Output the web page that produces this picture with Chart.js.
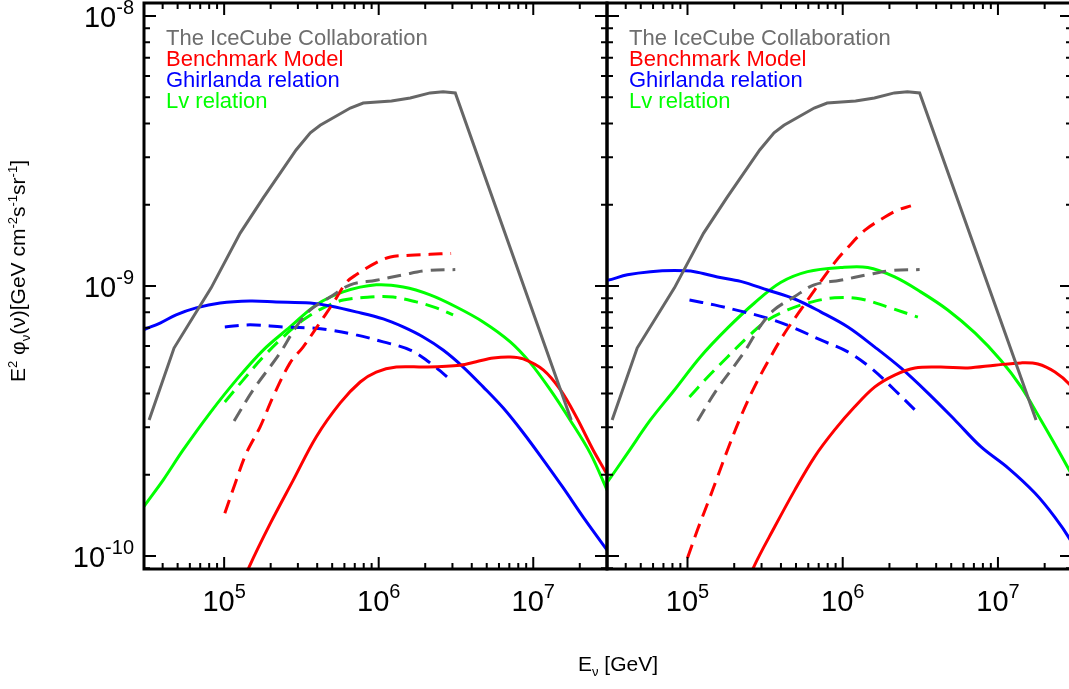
<!DOCTYPE html>
<html>
<head>
<meta charset="utf-8">
<script src="https://cdn.jsdelivr.net/npm/chart.js@4.4.1/dist/chart.umd.min.js"></script>
<style>
  body { margin: 0; width: 1069px; height: 689px; overflow: hidden; background: #fff; position: relative;
         font-family: "Liberation Sans", Arial, sans-serif; }
  canvas { position: absolute; top: 0; }
  #left { left: 0; }
  #right { left: 602px; }
  .title { position: absolute; font-size: 21px; color: #000; white-space: nowrap; line-height: normal; }
  .title sup, .title sub { font-size: 0.62em; line-height: 0; }
  #xtitle { left: 578px; top: 652px; }
  #ytitle { left: 18px; top: 271px; transform: translate(-50%, -50%) rotate(-90deg); }
</style>
</head>
<body>
<canvas id="left" width="612" height="689"></canvas>
<canvas id="right" width="470" height="689"></canvas>
<div class="title" id="xtitle">E<sub>ν</sub> [GeV]</div>
<div class="title" id="ytitle">E<sup>2</sup> φ<sub>ν</sub>(ν)[GeV cm<sup>-2</sup>s<sup>-1</sup>sr<sup>-1</sup>]</div>
<script>
// IceCube data (same in both panels)
const iceEnergy = [3.27e4, 4.74e4, 8.24e4, 1.27e5, 1.79e5, 2.92e5, 3.61e5, 4.18e5, 6.55e5, 7.94e5, 1.21e6, 1.60e6, 2.15e6, 2.61e6, 3.13e6, 1.76e7];
const iceFlux   = [3.19e-10, 5.89e-10, 9.84e-10, 1.57e-9, 2.12e-9, 3.19e-9, 3.69e-9, 3.94e-9, 4.56e-9, 4.76e-9, 4.84e-9, 4.97e-9, 5.19e-9, 5.24e-9, 5.19e-9, 3.19e-10];
const iceFitEnergy = [1.16e5, 1.54e5, 2.30e5, 2.92e5, 3.61e5, 4.85e5, 6.55e5, 9.64e5, 1.44e6, 2.03e6, 3.13e6];
const iceFitFlux   = [3.16e-10, 4.12e-10, 5.65e-10, 7.05e-10, 8.15e-10, 9.10e-10, 1.01e-9, 1.05e-9, 1.10e-9, 1.14e-9, 1.15e-9];

// left panel
const benchEnergyL = [1.18e5, 1.45e5, 1.99e5, 2.80e5, 3.94e5, 5.64e5, 7.59e5, 9.64e5, 1.30e6, 2.03e6, 3.37e6, 4.28e6, 5.51e6, 7.10e6, 8.61e6, 1.16e7, 1.50e7, 1.90e7, 2.44e7, 3.01e7, 3.66e7];
const benchFluxL   = [6.87e-11, 9.10e-11, 1.32e-10, 1.91e-10, 2.76e-10, 3.69e-10, 4.41e-10, 4.80e-10, 5.01e-10, 5.01e-10, 5.09e-10, 5.24e-10, 5.41e-10, 5.46e-10, 5.37e-10, 4.89e-10, 4.12e-10, 3.27e-10, 2.47e-10, 2.00e-10, 1.62e-10];
const benchDashEnergyL = [1.01e5, 1.18e5, 1.39e5, 1.71e5, 2.07e5, 2.67e5, 3.24e5, 3.94e5, 5.08e5, 6.17e5, 7.14e5, 9.64e5, 1.19e6, 1.60e6, 2.15e6, 2.94e6];
const benchDashFluxL   = [1.44e-10, 1.86e-10, 2.40e-10, 3.01e-10, 3.88e-10, 5.19e-10, 5.94e-10, 6.98e-10, 8.65e-10, 1.03e-9, 1.10e-9, 1.22e-9, 1.28e-9, 1.30e-9, 1.31e-9, 1.32e-9];
const ghirEnergyL = [2.47e4, 2.99e4, 3.85e4, 4.89e4, 6.59e4, 9.42e4, 1.47e5, 2.17e5, 3.61e5, 4.85e5, 7.14e5, 1.07e6, 1.44e6, 1.94e6, 2.61e6, 3.52e6, 4.74e6, 6.40e6, 8.61e6, 1.16e7, 1.56e7, 2.11e7, 3.01e7, 3.66e7];
const ghirFluxL   = [6.53e-10, 6.87e-10, 7.29e-10, 7.82e-10, 8.30e-10, 8.65e-10, 8.79e-10, 8.73e-10, 8.65e-10, 8.43e-10, 8.02e-10, 7.55e-10, 7.05e-10, 6.47e-10, 5.79e-10, 5.01e-10, 4.23e-10, 3.53e-10, 2.86e-10, 2.27e-10, 1.79e-10, 1.39e-10, 1.05e-10, 9.04e-11];
const ghirDashEnergyL = [1.01e5, 1.47e5, 2.41e5, 3.88e5, 4.85e5, 7.14e5, 1.07e6, 1.60e6, 2.15e6, 3.03e6];
const ghirDashFluxL   = [7.05e-10, 7.18e-10, 7.05e-10, 6.98e-10, 6.87e-10, 6.59e-10, 6.21e-10, 5.79e-10, 5.19e-10, 4.41e-10];
const lvEnergyL = [2.47e4, 2.99e4, 4.03e4, 5.43e4, 8.11e4, 1.20e5, 1.79e5, 2.67e5, 3.94e5, 5.89e5, 9.64e5, 1.44e6, 2.15e6, 3.18e6, 4.74e6, 7.10e6, 9.57e6, 1.29e7, 1.73e7, 2.34e7, 3.01e7, 3.66e7];
const lvFluxL   = [1.28e-10, 1.51e-10, 1.91e-10, 2.47e-10, 3.39e-10, 4.49e-10, 5.79e-10, 7.05e-10, 8.51e-10, 9.51e-10, 1.01e-9, 9.91e-10, 9.27e-10, 8.36e-10, 7.36e-10, 6.21e-10, 5.19e-10, 4.12e-10, 3.19e-10, 2.40e-10, 1.75e-10, 1.36e-10];
const lvDashEnergyL = [1.01e5, 1.33e5, 1.79e5, 2.41e5, 3.24e5, 4.38e5, 5.89e5, 8.81e5, 1.24e6, 1.75e6, 2.36e6, 3.03e6];
const lvDashFluxL   = [3.72e-10, 4.49e-10, 5.46e-10, 6.47e-10, 7.48e-10, 8.30e-10, 8.87e-10, 9.10e-10, 9.10e-10, 8.73e-10, 8.30e-10, 7.82e-10];

// right panel
const benchEnergyR = [2.20e5, 2.67e5, 3.64e5, 4.90e5, 6.59e5, 8.87e5, 1.19e6, 1.61e6, 2.16e6, 2.92e6, 4.29e6, 6.40e6, 9.57e6, 1.41e7, 1.81e7, 2.33e7, 2.92e7, 3.43e7];
const benchFluxR   = [6.87e-11, 9.10e-11, 1.28e-10, 1.75e-10, 2.33e-10, 2.93e-10, 3.56e-10, 4.23e-10, 4.68e-10, 4.97e-10, 5.01e-10, 4.97e-10, 5.09e-10, 5.19e-10, 5.14e-10, 4.80e-10, 4.30e-10, 3.78e-10];
const benchDashEnergyR = [1.00e5, 1.16e5, 1.35e5, 1.56e5, 1.81e5, 2.20e5, 2.70e5, 3.43e5, 4.23e5, 5.36e5, 6.59e5, 8.87e5, 1.08e6, 1.39e6, 1.87e6, 2.26e6, 2.75e6];
const benchDashFluxR   = [9.84e-11, 1.25e-10, 1.57e-10, 1.96e-10, 2.47e-10, 3.27e-10, 4.23e-10, 5.46e-10, 6.70e-10, 8.15e-10, 9.66e-10, 1.22e-9, 1.39e-9, 1.61e-9, 1.80e-9, 1.91e-9, 1.98e-9];
const ghirEnergyR = [2.37e4, 3.05e4, 4.10e4, 5.77e4, 8.24e4, 1.11e5, 1.56e5, 2.20e5, 3.28e5, 4.90e5, 7.21e5, 1.08e6, 1.61e6, 2.37e6, 3.53e6, 5.28e6, 7.76e6, 1.16e7, 1.73e7, 2.33e7, 2.92e7, 3.43e7];
const ghirFluxR   = [1.03e-9, 1.05e-9, 1.10e-9, 1.13e-9, 1.14e-9, 1.13e-9, 1.08e-9, 1.04e-9, 9.66e-10, 8.95e-10, 8.02e-10, 7.05e-10, 5.94e-10, 4.97e-10, 4.02e-10, 3.19e-10, 2.54e-10, 2.12e-10, 1.71e-10, 1.39e-10, 1.15e-10, 9.66e-11];
const ghirDashEnergyR = [1.03e5, 1.49e5, 2.20e5, 3.28e5, 4.90e5, 7.21e5, 1.08e6, 1.52e6, 2.16e6, 3.05e6];
const ghirDashFluxR   = [8.87e-10, 8.51e-10, 8.07e-10, 7.60e-10, 6.98e-10, 6.31e-10, 5.70e-10, 4.97e-10, 4.12e-10, 3.39e-10];
const lvEnergyR = [2.37e4, 3.05e4, 4.10e4, 5.77e4, 8.24e4, 1.21e5, 1.81e5, 2.70e5, 3.98e5, 5.94e5, 9.70e5, 1.45e6, 2.16e6, 3.18e6, 4.75e6, 7.11e6, 1.04e7, 1.41e7, 1.89e7, 2.44e7, 2.92e7, 3.43e7];
const lvFluxR   = [1.55e-10, 1.88e-10, 2.40e-10, 3.19e-10, 4.12e-10, 5.46e-10, 6.98e-10, 8.65e-10, 1.03e-9, 1.13e-9, 1.17e-9, 1.17e-9, 1.08e-9, 9.51e-10, 8.15e-10, 6.70e-10, 5.32e-10, 4.23e-10, 3.19e-10, 2.47e-10, 2.05e-10, 1.73e-10];
const lvDashEnergyR = [1.03e5, 1.35e5, 1.81e5, 2.44e5, 3.28e5, 4.42e5, 5.94e5, 8.87e5, 1.31e6, 1.95e6, 3.05e6];
const lvDashFluxR   = [3.88e-10, 4.60e-10, 5.46e-10, 6.47e-10, 7.48e-10, 8.15e-10, 8.65e-10, 9.04e-10, 8.95e-10, 8.36e-10, 7.67e-10];

// axes
const xMin = 3.03e4, xMax = 3.0e7;
const yMin = 8.95e-11, yMax = 1.117e-8;
const xTickExps = [5, 6, 7];
const yTickExps = [-10, -9, -8];
const legendNames = ['The IceCube Collaboration', 'Benchmark Model', 'Ghirlanda relation', 'Lv relation'];

const GRAY = '#666666', RED = '#ff0000', BLUE = '#0000ff', GREEN = '#00ff00';
const legendColors = ['#6e6e6e', RED, BLUE, GREEN];
const FONT = '"Liberation Sans", Arial, sans-serif';

function pts(xs, ys) {
  return xs.map((v, i) => ({ x: v, y: ys[i] }));
}

function line(xs, ys, color, dashed, smooth) {
  return {
    data: pts(xs, ys),
    borderColor: color,
    borderWidth: 3,
    borderDash: dashed ? [14, 8] : [],
    pointRadius: 0,
    tension: smooth ? 0.35 : 0,
    fill: false
  };
}

function drawPow(ctx, exp, cx, baseline, align) {
  ctx.font = '29px ' + FONT;
  const wb = ctx.measureText('10').width;
  ctx.font = '20px ' + FONT;
  const we = ctx.measureText(exp).width;
  let start = align === 'right' ? cx - wb - we : cx - (wb + we) / 2;
  ctx.textAlign = 'left';
  ctx.textBaseline = 'alphabetic';
  ctx.font = '29px ' + FONT;
  ctx.fillText('10', start, baseline);
  ctx.font = '20px ' + FONT;
  ctx.fillText(exp, start + wb, baseline - 13);
}

const framePlugin = {
  id: 'frame',
  afterDraw(chart, args, opts) {
    const { ctx, chartArea: a } = chart;
    const xs = chart.scales.x, ys = chart.scales.y;
    ctx.save();
    ctx.strokeStyle = '#000';
    ctx.fillStyle = '#000';

    // ticks
    ctx.lineWidth = 2;
    ctx.beginPath();
    for (let d = -11; d <= -7; d++) {
      for (let m = 1; m <= 9; m++) {
        const v = m * Math.pow(10, d);
        if (v < yMin || v > yMax) continue;
        const py = ys.getPixelForValue(v);
        const len = m === 1 ? 12 : 6;
        ctx.moveTo(a.left, py); ctx.lineTo(a.left + len, py);
        ctx.moveTo(a.right, py); ctx.lineTo(a.right - len, py);
      }
    }
    for (let d = 4; d <= 7; d++) {
      for (let m = 1; m <= 9; m++) {
        const v = m * Math.pow(10, d);
        if (v < xMin || v > xMax) continue;
        const px = xs.getPixelForValue(v);
        const len = m === 1 ? 12 : 6;
        ctx.moveTo(px, a.bottom); ctx.lineTo(px, a.bottom - len);
        ctx.moveTo(px, a.top); ctx.lineTo(px, a.top + len);
      }
    }
    ctx.stroke();

    // frame
    ctx.lineWidth = 3;
    ctx.strokeRect(a.left, a.top, a.right - a.left, a.bottom - a.top);

    // x tick labels
    xTickExps.forEach(e => drawPow(ctx, String(e), xs.getPixelForValue(Math.pow(10, e)), 611, 'center'));

    // y tick labels (left panel only)
    if (opts.yLabels) {
      yTickExps.forEach(e => drawPow(ctx, String(e), 134, ys.getPixelForValue(Math.pow(10, e)) + 11, 'right'));
    }

    // legend text
    ctx.font = '22px ' + FONT;
    ctx.textAlign = 'left';
    legendNames.forEach((name, i) => {
      ctx.fillStyle = legendColors[i];
      ctx.fillText(name, a.left + 22, 45 + i * 21);
    });
    ctx.restore();
  }
};

function makePanel(id, datasets, padding, yLabels) {
  return new Chart(document.getElementById(id), {
    type: 'line',
    data: { datasets: datasets },
    options: {
      responsive: false,
      animation: false,
      events: [],
      layout: { padding: padding },
      scales: {
        x: { type: 'logarithmic', min: xMin, max: xMax, display: false },
        y: { type: 'logarithmic', min: yMin, max: yMax, display: false }
      },
      plugins: { legend: { display: false }, tooltip: { enabled: false }, frame: { yLabels: yLabels } }
    },
    plugins: [framePlugin]
  });
}

makePanel('left', [
  line(iceEnergy, iceFlux, GRAY, false, false),
  line(iceFitEnergy, iceFitFlux, GRAY, true, true),
  line(benchEnergyL, benchFluxL, RED, false, true),
  line(benchDashEnergyL, benchDashFluxL, RED, true, true),
  line(ghirEnergyL, ghirFluxL, BLUE, false, true),
  line(ghirDashEnergyL, ghirDashFluxL, BLUE, true, true),
  line(lvEnergyL, lvFluxL, GREEN, false, true),
  line(lvDashEnergyL, lvDashFluxL, GREEN, true, true)
], { left: 144, right: 5, top: 3, bottom: 120 }, true);

makePanel('right', [
  line(iceEnergy, iceFlux, GRAY, false, false),
  line(iceFitEnergy, iceFitFlux, GRAY, true, true),
  line(benchEnergyR, benchFluxR, RED, false, true),
  line(benchDashEnergyR, benchDashFluxR, RED, true, true),
  line(ghirEnergyR, ghirFluxR, BLUE, false, true),
  line(ghirDashEnergyR, ghirDashFluxR, BLUE, true, true),
  line(lvEnergyR, lvFluxR, GREEN, false, true),
  line(lvDashEnergyR, lvDashFluxR, GREEN, true, true)
], { left: 5, right: 0, top: 3, bottom: 120 }, false);
</script>
</body>
</html>
